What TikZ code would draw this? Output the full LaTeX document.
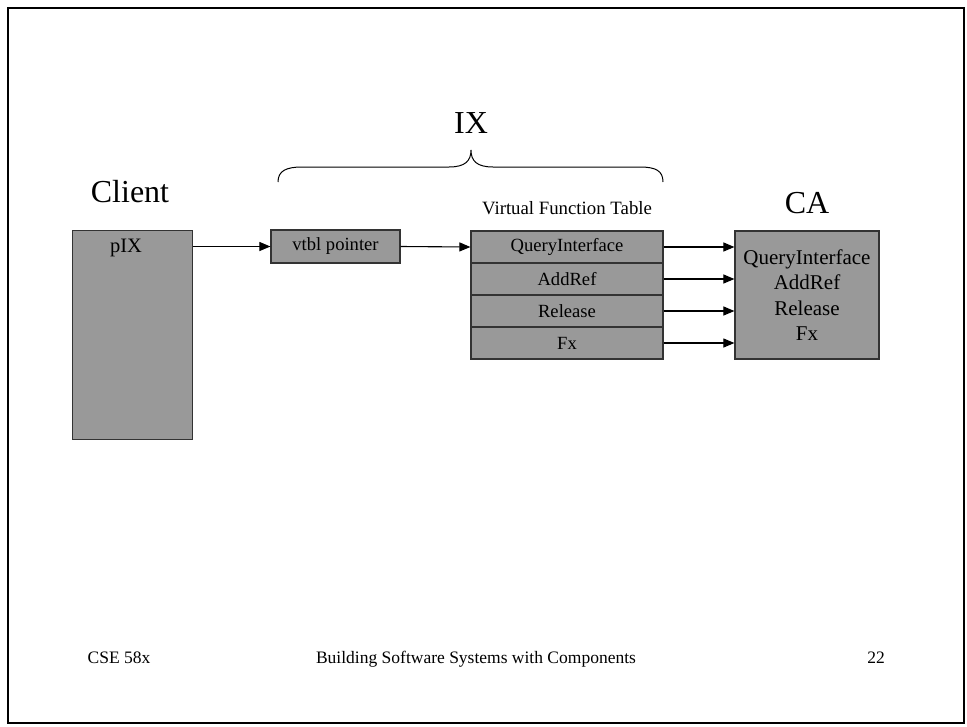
\documentclass[tikz,border=0pt]{standalone}
\usepackage{fontspec}
\setmainfont{Liberation Serif}
\usetikzlibrary{arrows.meta}
\begin{document}
\begin{tikzpicture}[x=1pt,y=-1pt,
  cell/.style={draw=black!80, line width=1.2pt, fill=black!40, inner sep=0pt,
    font=\fontsize{18.6}{21}\selectfont},
  arr/.style={line width=1.1pt, -{Triangle[length=11pt,width=9pt]}},
  big/.style={font=\fontsize{32}{36}\selectfont, inner sep=0pt},
  mid/.style={font=\fontsize{32}{36}\selectfont, inner sep=0pt},
  small/.style={font=\fontsize{18.8}{21}\selectfont, inner sep=0pt},
  foot/.style={font=\fontsize{17.5}{20}\selectfont, inner sep=0pt, anchor=base}]
  % page and frame
  \fill[white] (0,0) rectangle (967,726);
  \useasboundingbox (0,0) rectangle (967,726);
  \draw[line width=2.5pt] (8,8) rectangle (964,723);

  % titles
  \node[big] (clientlbl) at (130,192) {Client};
  \node[mid] (ixlbl) at (471,123) {IX};
  \node[mid] (calbl) at (807,203) {CA};
  \node[small] (vftlbl) at (567,208) {Virtual Function Table};

  % brace over the interface
  \coordinate (bl) at (278,182);
  \coordinate (bt) at (471,150);
  \coordinate (br) at (663,182);
  \draw[line width=1pt] (bl) .. controls (278,171) and (286,167) .. (302,167)
    -- (449,167) .. controls (465,167) and (471,161) .. (bt)
    .. controls (471,161) and (477,167) .. (493,167)
    -- (640,167) .. controls (656,167) and (663,171) .. (br);

  % client object
  \node[cell, minimum width=120pt, minimum height=209pt, anchor=north west] (client) at (72,230) {};
  \node[small, font=\fontsize{20.5}{23}\selectfont] (pix) at (126,248) {pIX};

  % vtbl pointer
  \node[cell, minimum width=129pt, minimum height=33pt] (vtbl) at (335.5,246.5) {vtbl pointer};

  % virtual function table rows
  \node[cell, minimum width=192pt, minimum height=32pt] (r1) at (567,247) {QueryInterface};
  \node[cell, minimum width=192pt, minimum height=32pt] (r2) at (567,279) {AddRef};
  \node[cell, minimum width=192pt, minimum height=32pt] (r3) at (567,311) {Release};
  \node[cell, minimum width=192pt, minimum height=32pt] (r4) at (567,343) {Fx};

  % component implementation
  \node[cell, minimum width=144pt, minimum height=128pt, align=center,
        font=\fontsize{21}{25.5}\selectfont] (ca) at (807,295)
        {QueryInterface\\AddRef\\Release\\Fx};

  % pointers
  \draw[arr] (vtbl.west -| client.east) -- (vtbl.west);
  \draw[arr] (vtbl.east) -- (r1.west);
  \draw[arr] (r1.east) -- (r1.east -| ca.west);
  \draw[arr] (r2.east) -- (r2.east -| ca.west);
  \draw[arr] (r3.east) -- (r3.east -| ca.west);
  \draw[arr] (r4.east) -- (r4.east -| ca.west);

  % footer
  \node[foot] (course) at (119,663) {CSE 58x};
  \node[foot] (ftitle) at (476,663) {Building Software Systems with Components};
  \node[foot] (pagenum) at (876,663) {22};
\end{tikzpicture}
\end{document}
